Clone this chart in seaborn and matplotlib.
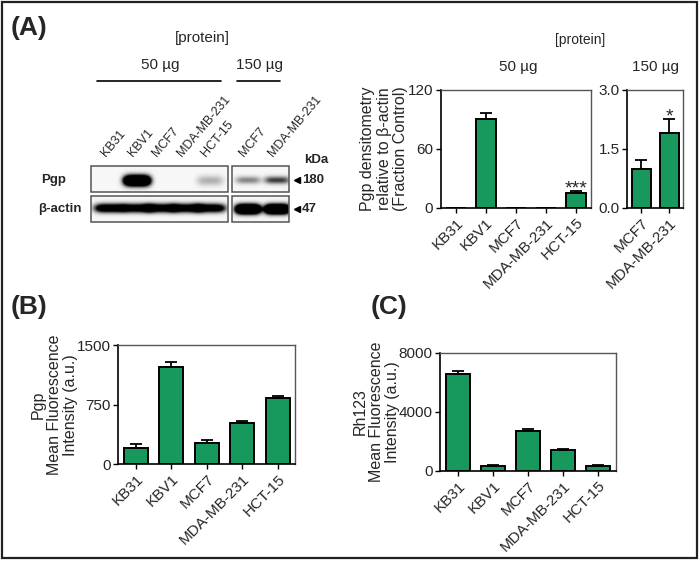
import numpy as np
import pandas as pd
import seaborn as sns
import matplotlib.pyplot as plt
from matplotlib.patches import Rectangle

# datos de las barras
lineas_50 = ['KB31', 'KBV1', 'MCF7', 'MDA-MB-231', 'HCT-15']
densit_50 = [0.0, 90.5, 0.0, 0.0, 15.2]
densit_50_err = [0.0, 5.8, 0.0, 0.0, 1.7]
lineas_150 = ['MCF7', 'MDA-MB-231']
densit_150 = [1.0, 1.9]
densit_150_err = [0.23, 0.36]
sig_50 = ['', '', '', '', '***']
sig_150 = ['', '*']

pgp_mfi = [210, 1222, 269, 521, 832]
pgp_mfi_err = [42, 59, 42, 21, 29]
rh123_mfi = [6540, 360, 2730, 1445, 360]
rh123_mfi_err = [245, 40, 130, 45, 30]

# intensidad relativa de las bandas del western blot
pgp_banda_50 = [0.0, 3.0, 0.0, 0.0, 0.28]
actina_banda_50 = [1.6, 1.5, 1.5, 1.5, 1.5]
pgp_banda_150 = [0.45, 0.75]
actina_banda_150 = [3.0, 3.0]

verde = '#17985d'

sns.set_style('ticks')
plt.rcParams['font.family'] = ['Liberation Sans', 'DejaVu Sans']
plt.rcParams['axes.linewidth'] = 1.2

fig = plt.figure(figsize=(7, 5.62), dpi=100)

# lienzo en pixeles para textos y blot
lienzo = fig.add_axes([0, 0, 1, 1])
lienzo.set_xlim(0, 700)
lienzo.set_ylim(562, 0)
lienzo.axis('off')
lienzo.add_patch(Rectangle((2, 2), 695, 556, fill=False, lw=1.6, ec='#222222'))

for letra, x, y in [('(A)', 11, 28), ('(B)', 11, 307), ('(C)', 371, 307)]:
    lienzo.text(x, y, letra, fontsize=19, fontweight='bold', va='center', ha='left')


def banda(centros, amps, x0, x1, y0, y1, yc, sx, sy):
    xs = np.arange(x0, x1, 0.25)
    ys = np.arange(y0, y1, 0.25)
    X, Y = np.meshgrid(xs, ys)
    img = np.full(X.shape, 0.03)
    for c, a in zip(centros, amps):
        img += a * np.exp(-0.5 * ((X - c) / sx) ** 4) * np.exp(-0.5 * ((Y - yc) / sy) ** 2)
    img = np.clip(img, 0, 1)
    lienzo.imshow(img, cmap='gray_r', vmin=0, vmax=1, extent=(x0, x1, y1, y0),
                  interpolation='bilinear', aspect='auto')
    lienzo.add_patch(Rectangle((x0, y0), x1 - x0, y1 - y0, fill=False, lw=1.1, ec='#555555'))


carriles_50 = [110, 137, 161, 186, 210]
carriles_150 = [248, 277]
banda(carriles_50, pgp_banda_50, 91, 228, 166, 192, 180.5, 11, 3.5)
banda(carriles_50, actina_banda_50, 91, 228, 196, 222, 208, 13, 3.0)
banda(carriles_150, pgp_banda_150, 232, 289, 166, 192, 180, 10.5, 2.6)
banda(carriles_150, actina_banda_150, 232, 289, 196, 222, 209, 10.5, 3.2)

for nombre, x in zip(lineas_50 + lineas_150, carriles_50 + carriles_150):
    lienzo.text(x - 2, 159, nombre, fontsize=9, rotation=50, rotation_mode='anchor',
                ha='left', va='bottom')

lienzo.text(41, 180, 'Pgp', fontsize=9.5, fontweight='bold', ha='left', va='center')
lienzo.text(38, 209, 'β-actin', fontsize=9.5, fontweight='bold', ha='left', va='center')
lienzo.text(316, 160, 'kDa', fontsize=9.5, fontweight='bold', ha='center', va='center')
lienzo.plot([297, 297], [180, 209], ls='none', marker='<', ms=5, color='black')
lienzo.text(302, 180, '180', fontsize=9.5, fontweight='bold', ha='left', va='center')
lienzo.text(302, 209, '47', fontsize=9.5, fontweight='bold', ha='left', va='center')

lienzo.text(202, 38, '[protein]', fontsize=11, ha='center', va='center')
lienzo.text(160, 65, '50 µg', fontsize=11, ha='center', va='center')
lienzo.text(259, 65, '150 µg', fontsize=11, ha='center', va='center')
lienzo.plot([97, 221], [81, 81], color='black', lw=1.2)
lienzo.plot([237, 280], [81, 81], color='black', lw=1.2)

lienzo.text(580, 40, '[protein]', fontsize=10, ha='center', va='center')
lienzo.text(518, 67, '50 µg', fontsize=11, ha='center', va='center')
lienzo.text(655, 67, '150 µg', fontsize=11, ha='center', va='center')


def barras(pos, cats, vals, errs, ymax, yticks, etiquetas=None, ylabel=None, pad=2):
    ax = fig.add_axes(pos)
    df = pd.DataFrame({'linea': cats, 'valor': vals})
    sns.barplot(data=df, x='linea', y='valor', color=verde, edgecolor='black',
                linewidth=1.4, width=0.68, saturation=1, ax=ax)
    idx = [i for i, e in enumerate(errs) if e > 0]
    ax.errorbar(idx, [vals[i] for i in idx], yerr=[[0] * len(idx), [errs[i] for i in idx]],
                fmt='none', ecolor='black', elinewidth=1.3, capsize=4.3, capthick=1.3, zorder=1)
    ax.set_ylim(0, ymax)
    ax.set_xlim(-0.5, len(cats) - 0.5)
    ax.set_yticks(yticks)
    if etiquetas:
        ax.set_yticklabels(etiquetas)
    ax.set_xlabel('')
    ax.set_ylabel(ylabel if ylabel else '', fontsize=11.5, labelpad=pad, linespacing=1.1)
    ax.set_xticks(range(len(cats)))
    ax.set_xticklabels(cats, rotation=45, ha='right', rotation_mode='anchor')
    ax.tick_params(axis='both', labelsize=11, length=3.5, width=1, pad=2, color='black')
    for lado in ['top', 'right']:
        ax.spines[lado].set_visible(True)
        ax.spines[lado].set_color('#555555')
        ax.spines[lado].set_linewidth(1.0)
    for lado in ['left', 'bottom']:
        ax.spines[lado].set_color('black')
    ax.set_facecolor('white')
    return ax


ax1 = barras([0.630, 0.630, 0.214, 0.210], lineas_50, densit_50, densit_50_err, 120, [0, 60, 120],
             ylabel='Pgp densitometry\nrelative to β-actin\n(Fraction Control)', pad=0)
ax2 = barras([0.896, 0.630, 0.080, 0.210], lineas_150, densit_150, densit_150_err, 3.0,
             [0, 1.5, 3.0], ['0.0', '1.5', '3.0'])
for ax, vals, errs, sig in [(ax1, densit_50, densit_50_err, sig_50), (ax2, densit_150, densit_150_err, sig_150)]:
    for i, s in enumerate(sig):
        if s:
            ax.annotate(s, (i, vals[i] + errs[i]), xytext=(0, -1.5), textcoords='offset points',
                        ha='center', va='baseline', fontsize=14)

barras([0.169, 0.174, 0.253, 0.212], lineas_50, pgp_mfi, pgp_mfi_err, 1500, [0, 750, 1500],
       ylabel='Pgp\nMean Fluorescence\nIntensity (a.u.)', pad=-1)
barras([0.629, 0.162, 0.251, 0.210], lineas_50, rh123_mfi, rh123_mfi_err, 8000, [0, 4000, 8000],
       ylabel='Rh123\nMean Fluorescence\nIntensity (a.u.)', pad=-1)

fig.savefig('out.png', dpi=100)
